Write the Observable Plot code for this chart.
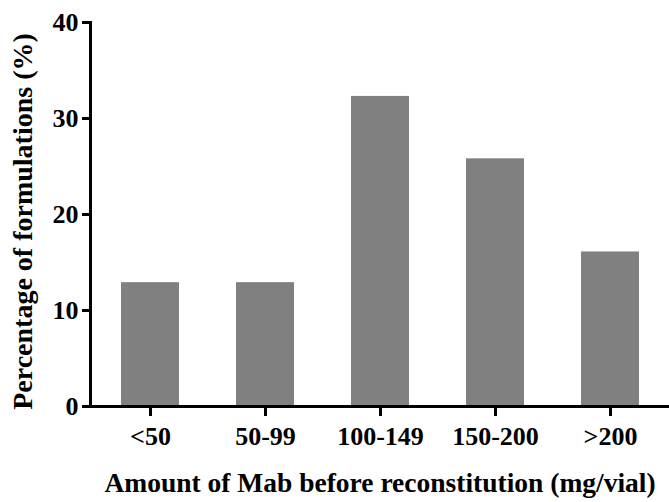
<!DOCTYPE html>
<html>
<head>
<meta charset="utf-8">
<script src="https://cdn.jsdelivr.net/npm/d3@7"></script>
<script src="https://cdn.jsdelivr.net/npm/@observablehq/plot@0.6"></script>
<style>
  html, body { margin: 0; padding: 0; background: #fff; }
  #chart svg { display: block; }
</style>
</head>
<body>
<div id="chart"></div>
<script>
const categories = ["<50", "50-99", "100-149", "150-200", ">200"];
const percentages = [12.9, 12.9, 32.3, 25.8, 16.1];
const yTicks = [0, 10, 20, 30, 40];
const xTitle = "Amount of Mab before reconstitution (mg/vial)";
const yTitle = "Percentage of formulations (%)";

const data = categories.map((c, i) => ({category: c, value: percentages[i]}));
const font = "'Liberation Serif', 'Times New Roman', serif";

const chart = Plot.plot({
  width: 669,
  height: 502,
  marginLeft: 90,
  marginRight: 0,
  marginTop: 22,
  marginBottom: 96,
  style: {fontFamily: font, fontWeight: "bold", color: "#000", background: "#fff"},
  x: {domain: categories, paddingInner: 0.5, paddingOuter: 0.26, axis: null},
  y: {domain: [0, 40], axis: null},
  marks: [
    Plot.barY(data, {x: "category", y: "value", fill: "#808080"}),
    Plot.ruleY([0], {stroke: "#000", strokeWidth: 3}),
    Plot.frame({anchor: "left", stroke: "#000", strokeWidth: 3}),
    Plot.axisY({ticks: yTicks, tickSize: 8, tickPadding: 4, strokeWidth: 3, fontSize: 26, fontWeight: "bold", label: null}),
    Plot.axisX({tickSize: 10, tickPadding: 10, strokeWidth: 3, fontSize: 26, fontWeight: "bold", label: null}),
    Plot.text([xTitle], {frameAnchor: "bottom", textAnchor: "middle", lineAnchor: "middle", dy: 77, fontSize: 27.5, fontWeight: "bold", fill: "#000"}),
    Plot.text([yTitle], {frameAnchor: "left", textAnchor: "middle", rotate: -90, lineAnchor: "middle", dx: -67, dy: 7, fontSize: 28, fontWeight: "bold", fill: "#000"})
  ]
});
document.getElementById("chart").appendChild(chart);
</script>
</body>
</html>
